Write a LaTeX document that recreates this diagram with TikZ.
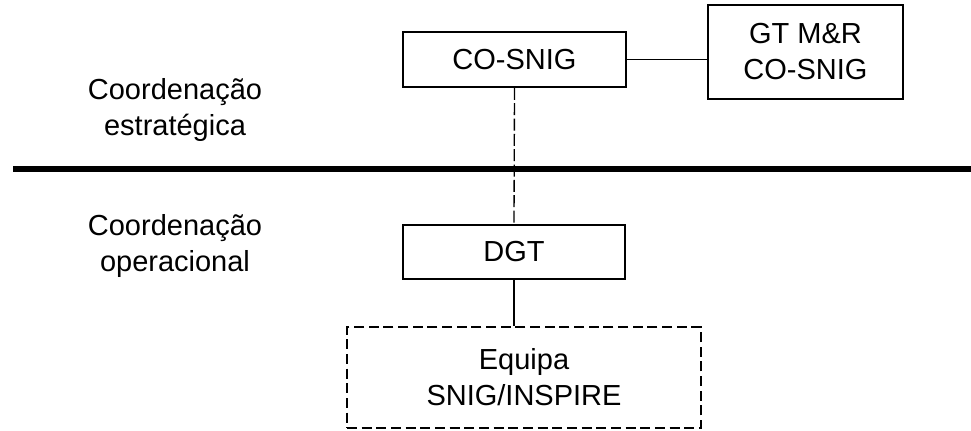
\documentclass[tikz,border=0pt]{standalone}
\usepackage{fontspec}
\setmainfont{Liberation Sans}
\usetikzlibrary{positioning,calc}

\begin{document}
\begin{tikzpicture}[x=0.75pt, y=-0.75pt,
    every node/.style={font=\fontsize{21.75pt}{27pt}\selectfont, align=center},
    unit/.style={draw, line width=1.3pt, inner sep=0pt},
    team/.style={draw, line width=1.3pt, inner sep=0pt, dash pattern=on 7.5pt off 3.5pt},
    link/.style={line width=1pt}]
    \useasboundingbox (0,0) rectangle (971,431);

    % levels
    \node (strat) at (175,110) {Coordenação\\estratégica};
    \node (oper) at (175,246) {Coordenação\\operacional};
    \coordinate (sepL) at (13,169);
    \coordinate (sepR) at (971,169);
    \draw[line width=4.2pt] (sepL) -- (sepR);

    % bodies
    \node[unit, minimum width=167.25pt, minimum height=41.25pt] (cosnig) at (514.5,59.5) {CO-SNIG};
    \node[unit, minimum width=146.25pt, minimum height=70.5pt] (gtmr) at (805.5,52) {GT M\&R\\CO-SNIG};
    \node[unit, minimum width=166.5pt, minimum height=40.5pt] (dgt) at (514,252) {DGT};
    \node[team, minimum width=265.5pt, minimum height=75.75pt] (equipa) at (524,377.5) {Equipa\\SNIG/INSPIRE};

    \draw[link] (cosnig.east) -- (cosnig.east -| gtmr.west);
    \draw[link, dash pattern=on 9pt off 2.5pt] (cosnig.south) -- (dgt.north);
    \draw[link] (dgt.south) -- (dgt.south |- equipa.north);
\end{tikzpicture}
\end{document}
